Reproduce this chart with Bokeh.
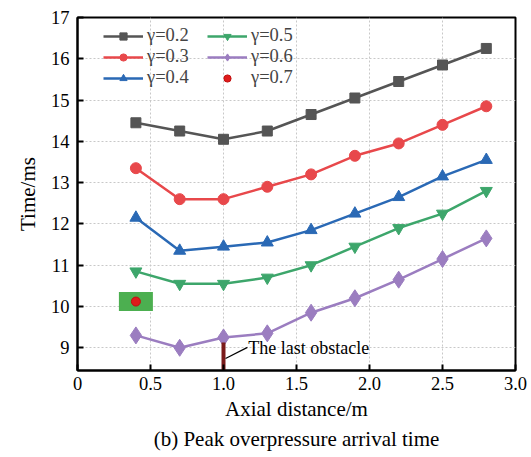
from bokeh.plotting import figure
from bokeh.models import Range1d, Legend, LegendItem, Title, NumeralTickFormatter, FixedTicker
from bokeh.core.properties import value
from bokeh.embed import file_html
from bokeh.resources import INLINE

x_pos = [0.4, 0.7, 1.0, 1.3, 1.6, 1.9, 2.2, 2.5, 2.8]
g02 = [14.45, 14.25, 14.05, 14.25, 14.65, 15.05, 15.45, 15.85, 16.25]
g03 = [13.35, 12.6, 12.6, 12.9, 13.2, 13.65, 13.95, 14.4, 14.85]
g04 = [12.15, 11.35, 11.45, 11.55, 11.85, 12.25, 12.65, 13.15, 13.55]
g05 = [10.85, 10.55, 10.55, 10.7, 11.0, 11.45, 11.9, 12.25, 12.8]
g06 = [9.3, 9.0, 9.25, 9.35, 9.85, 10.2, 10.65, 11.15, 11.65]
g07_x = [0.4]
g07_y = [10.12]
obstacle_x = [1.0]
obstacle_top = [9.13]
note_text = ["The last obstacle"]
note_x = [1.17]
note_y = [8.99]
x_ticks = [0, 0.5, 1.0, 1.5, 2.0, 2.5, 3.0]
y_ticks = [9, 10, 11, 12, 13, 14, 15, 16, 17]

FONT = "Liberation Serif"

p = figure(width=531, height=457, output_backend="svg", toolbar_location=None,
           x_range=Range1d(0, 3.0), y_range=Range1d(8.45, 17),
           frame_width=438, frame_height=353,
           min_border_left=77, min_border_right=16, min_border_top=17, min_border_bottom=87)
p.background_fill_color = "white"
p.border_fill_color = "white"
p.outline_line_color = "black"
p.outline_line_width = 2

for ax in (p.xaxis[0], p.yaxis[0]):
    ax.axis_line_width = 2
    ax.major_tick_line_width = 2
    ax.major_tick_in = 6
    ax.major_tick_out = 0
    ax.minor_tick_in = 0
    ax.minor_tick_out = 0
    ax.major_label_text_font = FONT
    ax.major_label_text_font_size = "18.5px"
    ax.major_label_text_color = "black"
    ax.axis_label_text_font = FONT
    ax.axis_label_text_font_size = "21px"
    ax.axis_label_text_font_style = "normal"
    ax.axis_label_text_color = "black"

p.xaxis.ticker = FixedTicker(ticks=x_ticks)
p.yaxis.ticker = FixedTicker(ticks=y_ticks)
p.xaxis.formatter = NumeralTickFormatter(format="0.0")
p.xaxis.major_label_overrides = {0: "0"}
p.xaxis.axis_label = "Axial distance/m"
p.yaxis.axis_label = "Time/ms"
p.xaxis.major_label_standoff = 6
p.yaxis.major_label_standoff = 8
p.xaxis.axis_label_standoff = 4
p.yaxis.axis_label_standoff = 8

for g in (p.xgrid[0], p.ygrid[0]):
    g.grid_line_color = "#c8c8c8"
    g.grid_line_dash = "2 2"
    g.grid_line_width = 1

# highlight box for gamma 0.7
p.rect(x=g07_x, y=g07_y, width=34, height=19, width_units="screen", height_units="screen",
       fill_color="#4caf50", line_color=None)

series = [
    (g02, "#555555", "square", 10, "γ=0.2"),
    (g03, "#e8484b", "circle", 11, "γ=0.3"),
    (g04, "#2a69b5", "triangle", 12, "γ=0.4"),
    (g05, "#3da66b", "inverted_triangle", 12, "γ=0.5"),
    (g06, "#9b7dc0", "diamond", 17, "γ=0.6"),
]
items = []
for ys, col, mk, sz, lab in series:
    l = p.line(x_pos, ys, line_color=col, line_width=2.5)
    s = p.scatter(x_pos, ys, marker=mk, size=sz, fill_color=col, line_color=col)
    items.append(LegendItem(label=lab, renderers=[l, s]))

r07 = p.scatter(g07_x, g07_y, marker="circle", size=9, fill_color="#e01b1b", line_color="#c01010")
items.append(LegendItem(label="γ=0.7", renderers=[r07]))

# obstacle bar
p.segment(x0=obstacle_x, y0=[p.y_range.start], x1=obstacle_x, y1=obstacle_top,
          line_color="#7a1a1a", line_width=4)
p.segment(x0=[1.014], y0=[8.74], x1=[1.164], y1=[9.01], line_color="black", line_width=1.2)
p.text(x=note_x, y=note_y, text=note_text, text_baseline="middle", text_align="left",
       text_font=value(FONT), text_font_size="18px", text_color="black")

def mk_legend(its, loc):
    lg = Legend(items=its, location=loc, margin=0, padding=0, spacing=0,
                label_text_font=FONT, label_text_font_size="18.5px", label_standoff=4,
                glyph_width=40, glyph_height=18, label_height=18,
                background_fill_alpha=0, border_line_color=None)
    return lg

p.add_layout(mk_legend(items[:3], (26, 282)))
p.add_layout(mk_legend(items[3:], (130, 282)))

p.add_layout(Title(text="(b) Peak overpressure arrival time", align="center",
                   text_font=FONT, text_font_size="21px", text_font_style="normal",
                   text_color="black", standoff=2), "below")

open("out.html", "w").write(file_html(p, INLINE))
